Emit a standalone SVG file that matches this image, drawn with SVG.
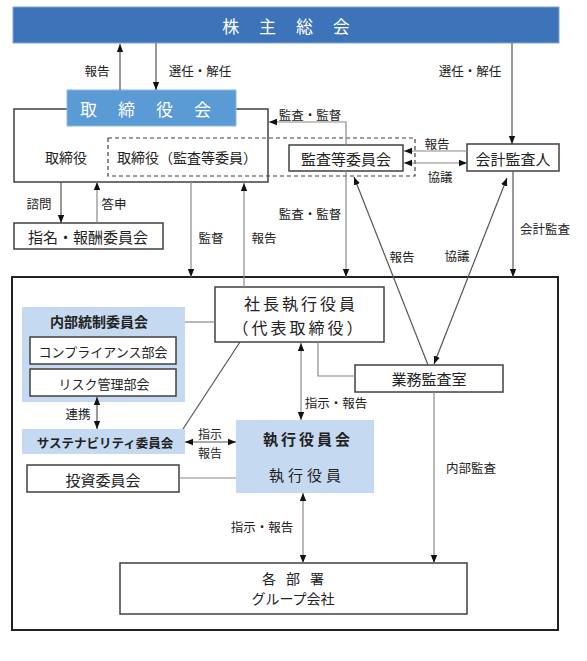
<svg xmlns="http://www.w3.org/2000/svg" width="587" height="661" viewBox="0 0 587 661">
<defs>
<marker id="arr" markerUnits="userSpaceOnUse" markerWidth="8" markerHeight="8" viewBox="0 0 8 8" refX="8" refY="4" orient="auto-start-reverse">
<path d="M0,0.8 L8,4 L0,7.2 Z" fill="#111"/>
</marker>
<style>
text{font-family:"Noto Sans CJK JP","Noto Sans",sans-serif;fill:#222;text-anchor:middle;dominant-baseline:central}
.lbl{font-size:12.5px}
.sm{font-size:12px}
.box{fill:#fff;stroke:#404040;stroke-width:1.5}
.pan{fill:#c5d9f0;stroke:none}
.c{fill:none;stroke:#8a8a8a;stroke-width:1.2}
.cd{fill:none;stroke:#555;stroke-width:1.2}
.a{marker-end:url(#arr)}
.b{marker-start:url(#arr);marker-end:url(#arr)}
.w{fill:#fff}
</style>
</defs>
<rect width="587" height="661" fill="#fff"/>

<g id="kabunushi">
<rect x="13" y="7" width="546" height="36" fill="#3d73b9" stroke="#7fa6d6" stroke-width="1"/>
<text x="290" y="25" class="w" style="font-size:17px;letter-spacing:8px">株 主 総 会</text>
</g>

<g id="torishimariyaku-frame">
<rect x="14" y="109" width="254" height="73" class="box"/>
<rect x="108" y="138" width="307" height="38" fill="none" stroke="#404040" stroke-width="1.2" stroke-dasharray="4,3"/>
<text x="66" y="157" style="font-size:14px">取締役</text>
<text x="187" y="157" style="font-size:14px">取締役（監査等委員）</text>
</g>

<g id="torishimariyakukai">
<rect x="67" y="90" width="169" height="36" fill="#5b9bd5" stroke="#8db8e2" stroke-width="1"/>
<text x="156" y="108" class="w" style="font-size:17px;letter-spacing:21px">取締役会</text>
</g>

<g id="kansatou">
<rect x="289" y="145" width="114" height="26" class="box"/>
<text x="346" y="158" style="font-size:15px">監査等委員会</text>
</g>

<g id="kaikei">
<rect x="467" y="144" width="92" height="27" class="box"/>
<text x="513" y="158" style="font-size:15px">会計監査人</text>
</g>

<g id="shimei">
<rect x="14" y="223" width="149" height="26" class="box"/>
<text x="88" y="236" style="font-size:15px">指名・報酬委員会</text>
</g>

<g id="group-frame">
<rect x="12" y="277" width="546" height="353" fill="none" stroke="#222" stroke-width="2"/>
</g>

<g id="shacho">
<rect x="215" y="287" width="169" height="55" class="box"/>
<text x="301" y="303" style="font-size:16px;letter-spacing:3px">社長執行役員</text>
<text x="299" y="327" style="font-size:16px;letter-spacing:3px">（代表取締役）</text>
</g>

<g id="naibutousei">
<rect x="22" y="307" width="163" height="95" class="pan"/>
<text x="99" y="321" style="font-size:14px;font-weight:bold">内部統制委員会</text>
<rect x="30" y="337" width="146" height="27" class="box"/>
<text x="103" y="351" style="font-size:13px">コンプライアンス部会</text>
<rect x="30" y="369" width="146" height="27" class="box"/>
<text x="104" y="383" style="font-size:13px">リスク管理部会</text>
</g>

<g id="sustainability">
<rect x="22" y="429" width="163" height="25" class="pan"/>
<text x="105" y="442" style="font-size:12.5px;font-weight:bold">サステナビリティ委員会</text>
</g>

<g id="toushi">
<rect x="27" y="465" width="152" height="27" class="box"/>
<text x="103" y="479" style="font-size:15px">投資委員会</text>
</g>

<g id="shikkoukai">
<rect x="236" y="420" width="138" height="73" class="pan"/>
<text x="308" y="438" style="font-size:15px;font-weight:bold;letter-spacing:3px">執行役員会</text>
<text x="307" y="474" style="font-size:15px;letter-spacing:4px">執行役員</text>
</g>

<g id="gyoumukansa">
<rect x="355" y="365" width="148" height="27" class="box"/>
<text x="429" y="378" style="font-size:15px">業務監査室</text>
</g>

<g id="kakubusho">
<rect x="120" y="563" width="347" height="51" class="box"/>
<text x="298" y="578" style="font-size:14px;letter-spacing:10px">各部署</text>
<text x="293" y="598" style="font-size:14px">グループ会社</text>
</g>

<g id="connectors">
<line x1="120" y1="90" x2="120" y2="44" class="cd a"/>
<line x1="156" y1="43" x2="156" y2="90" class="cd a"/>
<line x1="512" y1="43" x2="512" y2="144" class="cd a"/>
<polyline points="346,145 346,122 269,122" class="c a"/>
<line x1="346" y1="171" x2="346" y2="277" class="c a"/>
<line x1="467" y1="151" x2="404" y2="151" class="c a"/>
<line x1="404" y1="163" x2="467" y2="163" class="c b"/>
<line x1="61" y1="182" x2="61" y2="223" class="cd a"/>
<line x1="97" y1="223" x2="97" y2="182" class="c a"/>
<line x1="191" y1="182" x2="191" y2="277" class="c a"/>
<line x1="244" y1="287" x2="244" y2="183" class="c a"/>
<line x1="428" y1="365" x2="354" y2="177" class="cd a"/>
<line x1="434" y1="364" x2="507" y2="178" class="cd b"/>
<line x1="513" y1="171" x2="513" y2="277" class="cd a"/>
<polyline points="318,342 318,376 355,376" class="c"/>
<line x1="185" y1="322" x2="215" y2="322" class="c"/>
<line x1="183" y1="429" x2="240" y2="342" class="cd"/>
<line x1="97" y1="397" x2="97" y2="429" class="cd b"/>
<line x1="185" y1="442" x2="236" y2="442" class="cd b"/>
<line x1="179" y1="478" x2="236" y2="478" class="c"/>
<line x1="301" y1="343" x2="301" y2="420" class="c b"/>
<line x1="303" y1="493" x2="303" y2="563" class="c b"/>
<line x1="434" y1="392" x2="434" y2="563" class="c a"/>
</g>

<g id="labels">
<text x="97" y="70" class="lbl">報告</text>
<text x="200" y="70" class="lbl">選任・解任</text>
<text x="470" y="70" class="lbl">選任・解任</text>
<text x="310" y="114" class="lbl">監査・監督</text>
<text x="437" y="143" class="lbl">報告</text>
<text x="440" y="176" class="lbl">協議</text>
<text x="39" y="203" class="lbl">諮問</text>
<text x="114" y="203" class="lbl">答申</text>
<text x="310" y="213" class="lbl">監査・監督</text>
<text x="545" y="228" class="lbl">会計監査</text>
<text x="211" y="237" class="lbl">監督</text>
<text x="264" y="237" class="lbl">報告</text>
<text x="402" y="256" class="lbl">報告</text>
<text x="457" y="255" class="lbl">協議</text>
<text x="336" y="402" class="lbl">指示・報告</text>
<text x="78" y="413" class="lbl">連携</text>
<text x="210" y="433" class="sm">指示</text>
<text x="210" y="452" class="sm">報告</text>
<text x="471" y="467" class="lbl">内部監査</text>
<text x="262" y="526" class="lbl">指示・報告</text>
</g>
</svg>
